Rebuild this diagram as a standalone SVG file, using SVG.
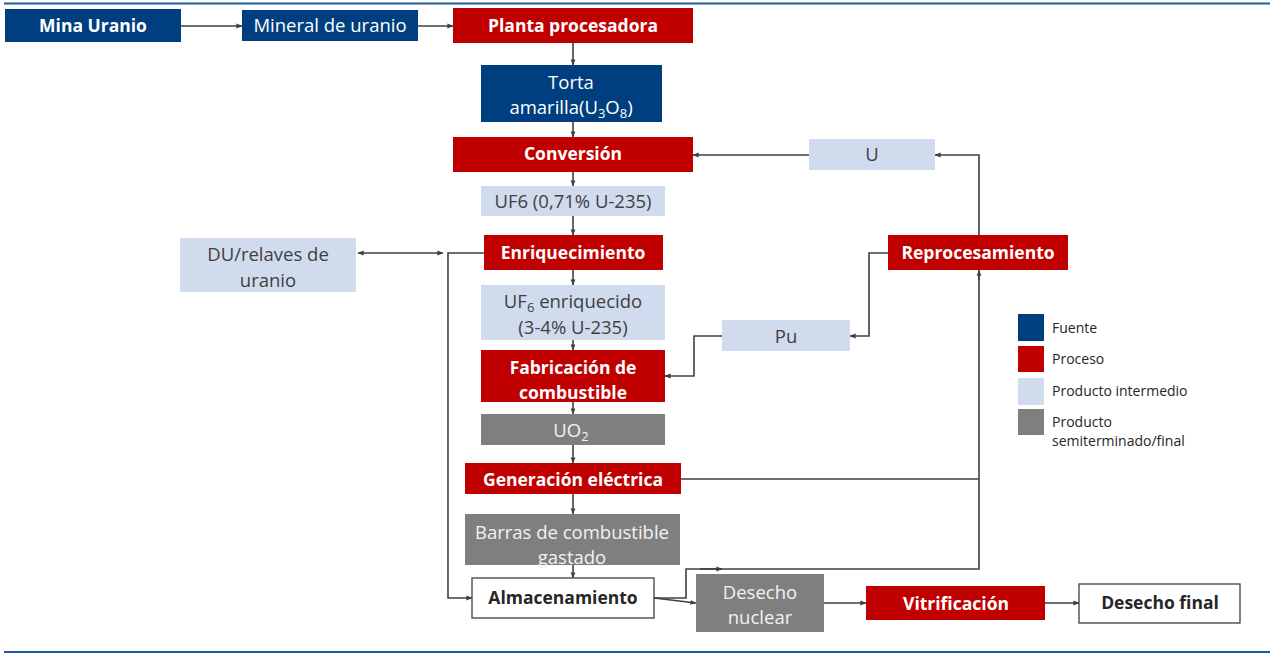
<svg xmlns="http://www.w3.org/2000/svg" width="1274" height="656" viewBox="0 0 1274 656">
<defs>
<marker id="ah" viewBox="0 0 8 8" refX="7.5" refY="4" markerWidth="6" markerHeight="6" orient="auto" markerUnits="userSpaceOnUse">
<path d="M0,0.8 L8,4 L0,7.2 Z" fill="#404040"/>
</marker>
<marker id="ahs" viewBox="0 0 8 8" refX="0.5" refY="4" markerWidth="6" markerHeight="6" orient="auto" markerUnits="userSpaceOnUse">
<path d="M8,0.8 L0,4 L8,7.2 Z" fill="#404040"/>
</marker>
<style>
.src{fill:#003f7f}
.proc{fill:#c00000}
.mid{fill:#d0dcee}
.fin{fill:#7f7f7f}
.wht{fill:#ffffff;stroke:#404040;stroke-width:1.3}
text{font-family:"Open Sans","Liberation Sans",sans-serif;font-size:18.5px;text-anchor:middle}
.tw{fill:#ffffff}
.tb{fill:#ffffff;font-weight:bold;font-size:17.5px}
.td{fill:#404040}
.tdb{fill:#262626;font-weight:bold;font-size:17.5px}
.tg{fill:#f2f2f2}
.lg{font-size:14px;text-anchor:start;fill:#262626}
.c{fill:none;stroke:#404040;stroke-width:1.6}
.ca{fill:none;stroke:#404040;stroke-width:1.6;marker-end:url(#ah)}
.rule{stroke:#1f5aa0;stroke-width:2}
</style>
</defs>
<line class="rule" x1="4" y1="3.5" x2="1270" y2="3.5"/>
<line class="rule" x1="4" y1="652" x2="1270" y2="652"/>

<g id="connectors">
<line class="ca" x1="181" y1="26" x2="242" y2="26"/>
<line class="ca" x1="418" y1="26" x2="453" y2="26"/>
<line class="ca" x1="573" y1="43" x2="573" y2="65"/>
<line class="ca" x1="573" y1="122" x2="573" y2="137"/>
<line class="ca" x1="809" y1="155" x2="693" y2="155"/>
<path class="ca" d="M979,235 V155 H935"/>
<line class="ca" x1="573" y1="172" x2="573" y2="186"/>
<line class="ca" x1="573" y1="216" x2="573" y2="235"/>
<line class="ca" x1="573" y1="270" x2="573" y2="285"/>
<line class="ca" x1="573" y1="340" x2="573" y2="350"/>
<line class="ca" x1="573" y1="402" x2="573" y2="414"/>
<line class="ca" x1="573" y1="445" x2="573" y2="463"/>
<line class="ca" x1="573" y1="494" x2="573" y2="514"/>
<line class="ca" x1="573" y1="565" x2="573" y2="578"/>
<path class="ca" d="M484,253 H448 V598 H472"/>
<line class="ca" x1="358" y1="253" x2="443" y2="253" style="marker-start:url(#ahs)"/>
<path class="ca" d="M888,253 H869 V336 H850"/>
<path class="ca" d="M722,336 H694 V376 H665"/>
<path class="c" d="M681,479 H979"/>
<path class="c" d="M654,598 H686 V569 H979 V276"/>
<line class="ca" x1="979" y1="280" x2="979" y2="270"/>
<line class="ca" x1="700" y1="569" x2="722" y2="569"/>
<line class="ca" x1="654" y1="598" x2="696" y2="603"/>
<line class="ca" x1="824" y1="603" x2="866" y2="603"/>
<line class="ca" x1="1045" y1="603" x2="1079" y2="603"/>
</g>

<g id="mina-uranio"><rect class="src" x="5" y="9" width="176" height="33"/><text class="tb" x="93" y="32">Mina Uranio</text></g>
<g id="mineral-uranio"><rect class="src" x="242" y="10" width="176" height="31"/><text class="tw" x="330" y="32">Mineral de uranio</text></g>
<g id="planta-procesadora"><rect class="proc" x="453" y="8" width="240" height="35"/><text class="tb" x="573" y="32">Planta procesadora</text></g>
<g id="torta-amarilla"><rect class="src" x="481" y="65" width="181" height="57"/><text class="tw" x="571" y="89">Torta</text><text class="tw" x="571" y="114">amarilla(U<tspan font-size="13" dy="4">3</tspan><tspan dy="-4">O</tspan><tspan font-size="13" dy="4">8</tspan><tspan dy="-4">)</tspan></text></g>
<g id="conversion"><rect class="proc" x="453" y="137" width="240" height="35"/><text class="tb" x="573" y="160">Conversión</text></g>
<g id="u"><rect class="mid" x="809" y="139" width="126" height="31"/><text class="td" x="872" y="161">U</text></g>
<g id="uf6"><rect class="mid" x="481" y="186" width="184" height="30"/><text class="td" x="573" y="208">UF6 (0,71% U-235)</text></g>
<g id="enriquecimiento"><rect class="proc" x="484" y="235" width="179" height="35"/><text class="tb" x="573" y="259">Enriquecimiento</text></g>
<g id="du-relaves"><rect class="mid" x="180" y="238" width="176" height="54"/><text class="td" x="268" y="261">DU/relaves de</text><text class="td" x="268" y="287">uranio</text></g>
<g id="reprocesamiento"><rect class="proc" x="888" y="235" width="180" height="35"/><text class="tb" x="978" y="259">Reprocesamiento</text></g>
<g id="uf6-enriquecido"><rect class="mid" x="481" y="285" width="184" height="55"/><text class="td" x="573" y="308">UF<tspan font-size="13" dy="4">6</tspan><tspan dy="-4"> enriquecido</tspan></text><text class="td" x="573" y="334">(3-4% U-235)</text></g>
<g id="pu"><rect class="mid" x="722" y="320" width="128" height="31"/><text class="td" x="786" y="343">Pu</text></g>
<g id="fabricacion"><rect class="proc" x="481" y="350" width="184" height="52"/><text class="tb" x="573" y="374">Fabricación de</text><text class="tb" x="573" y="399">combustible</text></g>
<g id="uo2"><rect class="fin" x="481" y="414" width="184" height="31"/><text class="tg" x="571" y="437">UO<tspan font-size="13" dy="4">2</tspan></text></g>
<g id="generacion"><rect class="proc" x="465" y="463" width="216" height="31"/><text class="tb" x="573" y="486">Generación eléctrica</text></g>
<g id="barras"><rect class="fin" x="465" y="514" width="215" height="51"/><text class="tg" x="572" y="539">Barras de combustible</text><text class="tg" x="572" y="564">gastado</text></g>
<g id="almacenamiento"><rect class="wht" x="472" y="578" width="182" height="40"/><text class="tdb" x="563" y="604">Almacenamiento</text></g>
<g id="desecho-nuclear"><rect class="fin" x="696" y="574" width="128" height="58"/><text class="tg" x="760" y="599">Desecho</text><text class="tg" x="760" y="624">nuclear</text></g>
<g id="vitrificacion"><rect class="proc" x="866" y="586" width="179" height="34"/><text class="tb" x="956" y="610">Vitrificación</text></g>
<g id="desecho-final"><rect class="wht" x="1079" y="584" width="161" height="39"/><text class="tdb" x="1160" y="609">Desecho final</text></g>

<g id="legend">
<rect class="src" x="1018" y="314" width="26" height="27"/>
<rect class="proc" x="1018" y="346" width="26" height="26"/>
<rect class="mid" x="1018" y="378" width="26" height="27"/>
<rect class="fin" x="1018" y="409" width="26" height="26"/>
<text class="lg" x="1052" y="333">Fuente</text>
<text class="lg" x="1052" y="364">Proceso</text>
<text class="lg" x="1052" y="396">Producto intermedio</text>
<text class="lg" x="1052" y="427">Producto</text>
<text class="lg" x="1052" y="446">semiterminado/final</text>
</g>
</svg>
